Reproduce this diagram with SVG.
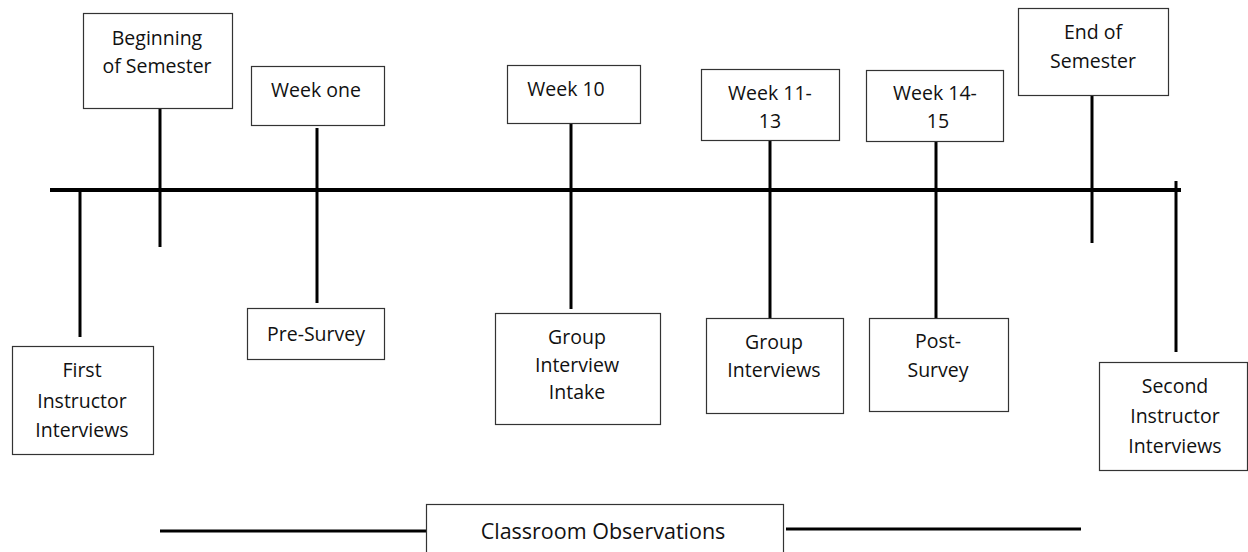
<svg xmlns="http://www.w3.org/2000/svg" width="1248" height="552" viewBox="0 0 1248 552">
  <style>
    .box { fill: #ffffff; stroke: #333333; stroke-width: 1.2; }
    .lbl { font-family: "Open Sans", "Noto Sans", sans-serif; font-size: 19.5px; fill: #111111; text-anchor: middle; }
    .big { font-size: 21.5px; }
    .bar { stroke: #000000; stroke-width: 3; fill: none; }
    .axis { stroke: #000000; stroke-width: 4; fill: none; }
  </style>
  <rect width="1248" height="552" fill="#ffffff"/>

  <!-- connectors: timeline axis, ticks and span bars -->
  <g id="connectors">
    <line class="axis" x1="50" y1="190" x2="1181" y2="190"/>
    <line class="bar" x1="1176" y1="181" x2="1176" y2="352"/>
    <line class="bar" x1="160" y1="108" x2="160" y2="247"/>
    <line class="bar" x1="317" y1="128" x2="317" y2="303"/>
    <line class="bar" x1="80" y1="190" x2="80" y2="337"/>
    <line class="bar" x1="571" y1="123" x2="571" y2="309"/>
    <line class="bar" x1="770" y1="140" x2="770" y2="318"/>
    <line class="bar" x1="936" y1="141" x2="936" y2="318"/>
    <line class="bar" x1="1092" y1="95" x2="1092" y2="243"/>
    <line class="bar" x1="160" y1="531" x2="426" y2="531"/>
    <line class="bar" x1="786" y1="529" x2="1081" y2="529"/>
  </g>

  <g id="beginning-of-semester">
    <rect class="box" x="83.5" y="13.5" width="149" height="95"/>
    <text class="lbl" x="157" y="45">Beginning</text>
    <text class="lbl" x="157" y="73">of Semester</text>
  </g>
  <g id="week-one">
    <rect class="box" x="251.5" y="66.5" width="133" height="59"/>
    <text class="lbl" x="316" y="97">Week one</text>
  </g>
  <g id="week-10">
    <rect class="box" x="507.5" y="65.5" width="133" height="58"/>
    <text class="lbl" x="566" y="96">Week 10</text>
  </g>
  <g id="week-11-13">
    <rect class="box" x="701.5" y="69.5" width="138" height="71"/>
    <text class="lbl" x="770" y="100">Week 11-</text>
    <text class="lbl" x="770" y="128">13</text>
  </g>
  <g id="week-14-15">
    <rect class="box" x="866.5" y="70.5" width="137" height="71"/>
    <text class="lbl" x="935" y="100">Week 14-</text>
    <text class="lbl" x="938" y="128">15</text>
  </g>
  <g id="end-of-semester">
    <rect class="box" x="1018.5" y="8.5" width="150" height="87"/>
    <text class="lbl" x="1093" y="39">End of</text>
    <text class="lbl" x="1093" y="68">Semester</text>
  </g>
  <g id="first-instructor-interviews">
    <rect class="box" x="12.5" y="346.5" width="141" height="108"/>
    <text class="lbl" x="82" y="377">First</text>
    <text class="lbl" x="82" y="408">Instructor</text>
    <text class="lbl" x="82" y="437">Interviews</text>
  </g>
  <g id="pre-survey">
    <rect class="box" x="247.5" y="308.5" width="137" height="51"/>
    <text class="lbl" x="316" y="341">Pre-Survey</text>
  </g>
  <g id="group-interview-intake">
    <rect class="box" x="495.5" y="313.5" width="165" height="111"/>
    <text class="lbl" x="577" y="344">Group</text>
    <text class="lbl" x="577" y="372">Interview</text>
    <text class="lbl" x="577" y="399">Intake</text>
  </g>
  <g id="group-interviews">
    <rect class="box" x="706.5" y="318.5" width="137" height="95"/>
    <text class="lbl" x="774" y="349">Group</text>
    <text class="lbl" x="774" y="377">Interviews</text>
  </g>
  <g id="post-survey">
    <rect class="box" x="869.5" y="318.5" width="139" height="93"/>
    <text class="lbl" x="938" y="348">Post-</text>
    <text class="lbl" x="938" y="377">Survey</text>
  </g>
  <g id="second-instructor-interviews">
    <rect class="box" x="1099.5" y="362.5" width="148" height="108"/>
    <text class="lbl" x="1175" y="393">Second</text>
    <text class="lbl" x="1175" y="423">Instructor</text>
    <text class="lbl" x="1175" y="453">Interviews</text>
  </g>
  <g id="classroom-observations">
    <rect class="box" x="426.5" y="504.5" width="357" height="60"/>
    <text class="lbl big" x="603" y="539">Classroom Observations</text>
  </g>
</svg>
